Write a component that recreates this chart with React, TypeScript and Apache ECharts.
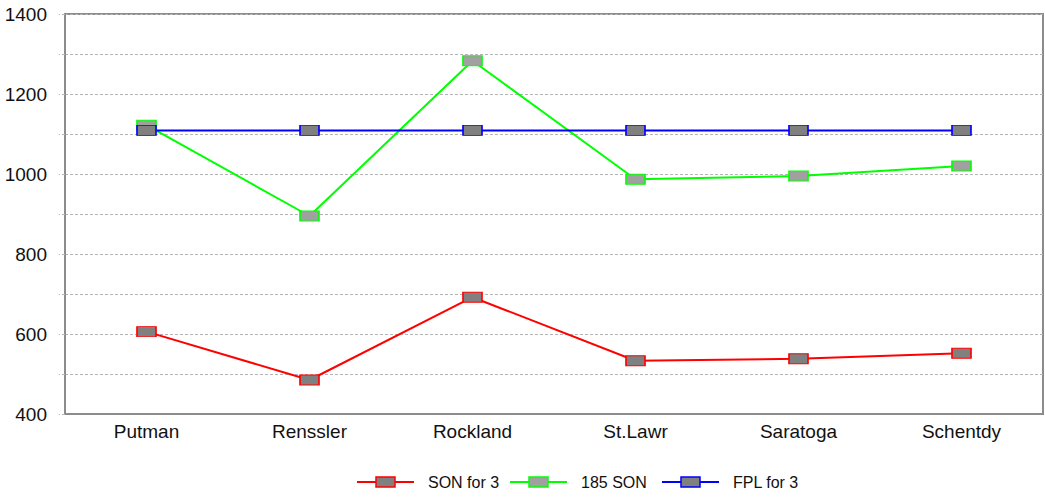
import React, { useEffect, useRef } from "react";
import * as echarts from "echarts";

// Counties along the category axis
const counties = ["Putman", "Renssler", "Rockland", "St.Lawr", "Saratoga", "Schentdy"];

// Series values per county
const sonFor3 = [606, 485, 692, 533, 538, 552];
const son185 = [1122, 895, 1283, 987, 995, 1020];
const fplFor3 = [1109, 1109, 1109, 1109, 1109, 1109];

const seriesNames = ["SON for 3", "185 SON", "FPL for 3"];
const lineColors = ["#ff0000", "#00ff00", "#0000ff"];
const markerFills = ["#808080", "#a0a0a0", "#808080"];

const FONT = "'Liberation Sans', Arial, sans-serif";

// Legend layout (left edge of each entry's key, baseline row)
const legendX = [357, 510, 662];
const legendY = 482;
const keyWidth = 57;

function lineSeries(i: number, data: number[]) {
  return {
    name: seriesNames[i],
    type: "line",
    data,
    symbol: "rect",
    symbolSize: [19, 10],
    showSymbol: true,
    lineStyle: { color: lineColors[i], width: 2 },
    itemStyle: { color: markerFills[i], borderColor: lineColors[i], borderWidth: 1.2 },
    emphasis: { disabled: true },
    z: 3,
  };
}

function legendGraphics() {
  return seriesNames.map((name, i) => ({
    type: "group",
    x: legendX[i],
    y: legendY,
    children: [
      {
        type: "line",
        shape: { x1: 0, y1: 0, x2: keyWidth, y2: 0 },
        style: { stroke: lineColors[i], lineWidth: 2 },
      },
      {
        type: "rect",
        shape: { x: keyWidth / 2 - 9.5, y: -5, width: 19, height: 10 },
        style: { fill: markerFills[i], stroke: lineColors[i], lineWidth: 1.5 },
      },
      {
        type: "text",
        x: keyWidth + 14,
        y: 0,
        style: {
          text: name,
          font: `16px ${FONT}`,
          fill: "#111",
          verticalAlign: "middle",
          align: "left",
        },
      },
    ],
  }));
}

export default function App() {
  const ref = useRef<HTMLDivElement>(null);

  useEffect(() => {
    if (!ref.current) return;
    const chart = echarts.init(ref.current, undefined, { renderer: "svg" });
    chart.setOption({
      animation: false,
      backgroundColor: "#ffffff",
      textStyle: { fontFamily: FONT },
      grid: {
        left: 65,
        right: 2,
        top: 14,
        bottom: 84,
        show: true,
        borderColor: "#8c8c8c",
        borderWidth: 2,
      },
      xAxis: {
        type: "category",
        data: counties,
        boundaryGap: true,
        axisLine: { lineStyle: { color: "#8c8c8c", width: 2 } },
        axisTick: { alignWithLabel: true, length: 7, lineStyle: { color: "#8c8c8c", width: 2 } },
        axisLabel: { fontSize: 19, color: "#111", margin: 8, fontFamily: FONT },
        splitLine: { show: false },
      },
      yAxis: {
        type: "value",
        min: 400,
        max: 1400,
        interval: 100,
        axisLine: { show: true, lineStyle: { color: "#8c8c8c", width: 2 } },
        axisTick: { show: true, length: 6, lineStyle: { color: "#b4b4b4", type: [3, 2] } },
        axisLabel: {
          fontSize: 19,
          color: "#111",
          margin: 18,
          fontFamily: FONT,
          formatter: (v: number) => (v % 200 === 0 ? String(v) : ""),
        },
        splitLine: { show: true, lineStyle: { color: "#b4b4b4", type: [3, 2], width: 1 } },
      },
      graphic: legendGraphics(),
      series: [lineSeries(0, sonFor3), lineSeries(1, son185), lineSeries(2, fplFor3)],
    });
    return () => chart.dispose();
  }, []);

  return (
    <div
      ref={ref}
      style={{ position: "fixed", left: 0, top: 0, width: 1045, height: 498, background: "#fff" }}
    />
  );
}
